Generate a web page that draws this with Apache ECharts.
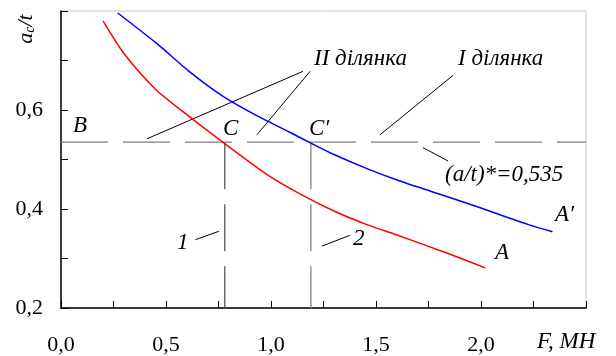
<!DOCTYPE html>
<html>
<head>
<meta charset="utf-8">
<script src="https://cdn.jsdelivr.net/npm/echarts@6/dist/echarts.min.js"></script>
<style>
  html, body { margin: 0; padding: 0; background: #fff; }
  #chart { width: 616px; height: 356px; }
</style>
</head>
<body>
<div id="chart"></div>
<script>
// Curve 1 (A): relative crack depth a_c/t against force F, MN
const curveA = [
  [0.20, 0.780], [0.30, 0.714], [0.45, 0.642], [0.61, 0.587], [0.78, 0.532],
  [0.98, 0.470], [1.14, 0.430], [1.30, 0.396], [1.46, 0.368], [1.61, 0.346],
  [1.76, 0.323], [1.90, 0.301], [2.02, 0.281]
];
// Curve 2 (A')
const curveA2 = [
  [0.27, 0.796], [0.46, 0.733], [0.61, 0.678], [0.77, 0.628], [0.93, 0.589],
  [1.09, 0.555], [1.19, 0.533], [1.30, 0.510], [1.46, 0.481], [1.61, 0.457],
  [1.76, 0.436], [2.00, 0.402], [2.12, 0.384], [2.23, 0.368], [2.34, 0.354]
];
// Critical ratio (a/t)* and the forces at points C and C'
const criticalRatio = 0.535;
const crossForces = [0.78, 1.19];

// Axis ranges and labelled ticks
const xRange = [0, 2.5];
const yRange = [0.2, 0.8];
const xLabelled = [0.0, 0.5, 1.0, 1.5, 2.0];
const yLabelled = [0.2, 0.4, 0.6];

// Leader lines for the annotations, in (F, a/t) coordinates
const leaders = [
  [[0.41, 0.542], [1.152, 0.678]],
  [[0.933, 0.550], [1.186, 0.678]],
  [[1.519, 0.550], [1.867, 0.670]],
  [[1.724, 0.524], [1.843, 0.497]],
  [[0.64, 0.338], [0.752, 0.355]],
  [[1.243, 0.325], [1.376, 0.347]]
];

const serif = "'Liberation Serif', 'Times New Roman', serif";
const fmt = v => v.toFixed(1).replace('.', ',');
const isLabelled = (list, v) => list.some(t => Math.abs(t - v) < 1e-6);

const chart = echarts.init(document.getElementById('chart'), null, { renderer: 'canvas' });

const annotations = [
  { text: 'B', x: 73, y: 126 },
  { text: 'C', x: 223, y: 129 },
  { text: 'C\u2032', x: 309, y: 129 },
  { text: 'II ділянка', x: 314, y: 59 },
  { text: 'I ділянка', x: 458, y: 59 },
  { text: '(a/t)*=0,535', x: 445, y: 175 },
  { text: 'A\u2032', x: 555, y: 215 },
  { text: 'A', x: 495, y: 253 },
  { text: '1', x: 177, y: 243 },
  { text: '2', x: 353, y: 239 },
  { text: 'F, MH', x: 537, y: 342 }
];

const option = {
  animation: false,
  backgroundColor: '#fff',
  grid: {
    left: 61, right: 30, top: 11, bottom: 46,
    show: true, borderColor: '#c8c8c8', borderWidth: 1,
    backgroundColor: 'transparent'
  },
  xAxis: {
    type: 'value', min: xRange[0], max: xRange[1], interval: 0.25,
    axisLine: { show: true, onZero: false, lineStyle: { color: '#000', width: 1.5 } },
    axisTick: { show: true, inside: true, length: 7, lineStyle: { color: '#000', width: 1 } },
    splitLine: { show: false },
    axisLabel: {
      margin: 26, color: '#000', fontFamily: serif, fontSize: 22,
      formatter: v => isLabelled(xLabelled, v) ? fmt(v) : ''
    }
  },
  yAxis: {
    type: 'value', min: yRange[0], max: yRange[1], interval: 0.1,
    axisLine: { show: true, onZero: false, lineStyle: { color: '#000', width: 1.5 } },
    axisTick: { show: true, inside: true, length: 7, lineStyle: { color: '#000', width: 1 } },
    splitLine: { show: false },
    axisLabel: {
      margin: 18, color: '#000', fontFamily: serif, fontSize: 22,
      formatter: v => isLabelled(yLabelled, v) ? fmt(v) : ''
    }
  },
  series: [
    {
      name: 'A', type: 'line', data: curveA, symbol: 'none', smooth: 0.25,
      lineStyle: { color: '#ff0000', width: 1.5 }, z: 5
    },
    {
      name: "A'", type: 'line', data: curveA2, symbol: 'none', smooth: 0.25,
      lineStyle: { color: '#0000ff', width: 1.5 }, z: 5
    },
    {
      name: 'critical', type: 'line', symbol: 'none',
      data: [[xRange[0], criticalRatio], [xRange[1], criticalRatio]],
      lineStyle: { color: '#808080', width: 1.3, type: [47, 15] }, z: 3
    },
    ...crossForces.map((f, i) => ({
      name: 'cross' + i, type: 'line', symbol: 'none',
      data: [[f, criticalRatio], [f, yRange[0]]],
      lineStyle: { color: i === 0 ? '#555' : '#808080', width: 1.3, type: [47, 15] }, z: 3
    })),
    {
      name: 'leaders', type: 'lines', coordinateSystem: 'cartesian2d',
      data: leaders.map(c => ({ coords: c })),
      lineStyle: { color: '#000', width: 1, opacity: 1 }, z: 4
    }
  ],
  graphic: [
    {
      type: 'text', x: 26, y: 29, rotation: Math.PI / 2,
      style: {
        text: '{a|a}{s|c}{a|/t}',
        align: 'center', verticalAlign: 'middle',
        rich: {
          a: { fontFamily: serif, fontStyle: 'italic', fontSize: 22, fill: '#000', lineHeight: 22 },
          s: { fontFamily: serif, fontStyle: 'italic', fontSize: 14, fill: '#000', verticalAlign: 'bottom', lineHeight: 22, padding: [8, 0, 0, 0] }
        }
      }
    },
    ...annotations.map(a => ({
      type: 'text', x: a.x, y: a.y,
      style: {
        text: a.text, fill: '#000', fontFamily: serif, fontStyle: 'italic', fontSize: 23,
        align: 'left', verticalAlign: 'middle'
      }
    }))
  ]
};

chart.setOption(option);
</script>
</body>
</html>
